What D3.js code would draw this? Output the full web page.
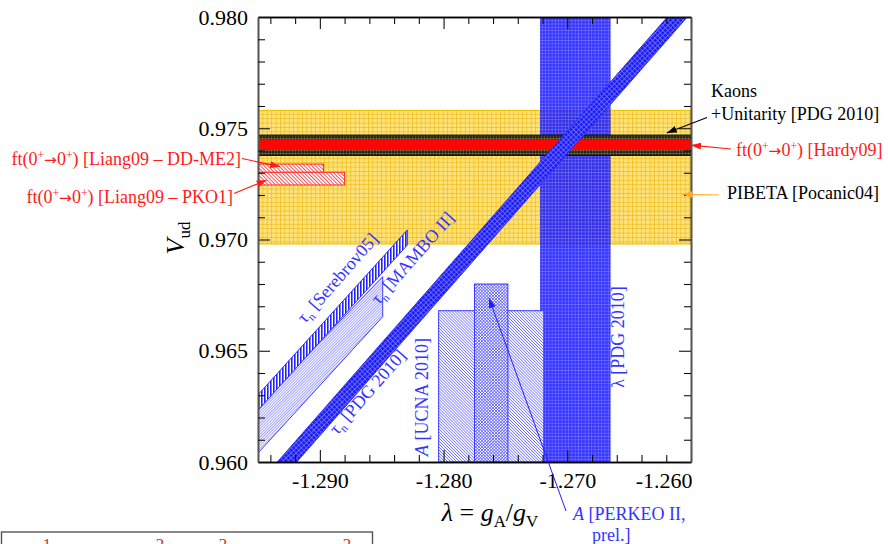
<!DOCTYPE html>
<html>
<head>
<meta charset="utf-8">
<script src="https://cdn.jsdelivr.net/npm/d3@7"></script>
<style>
  body { margin: 0; background: #fff; }
  svg { display: block; font-family: "Liberation Serif", "Times New Roman", serif; }
</style>
</head>
<body>
<svg id="chart" width="888" height="544"></svg>
<script>
// Dimensions
const margin = { top: 17, left: 258 };
const width = 433;
const height = 445;

// Axis ticks
const xTicks = [-1.29, -1.28, -1.27, -1.26];
const xTickLabels = ["-1.290", "-1.280", "-1.270", "-1.260"];
const yTicks = [0.96, 0.965, 0.97, 0.975, 0.98];
const yTickLabels = ["0.960", "0.965", "0.970", "0.975", "0.980"];
const xMinor = [-1.294, -1.292, -1.288, -1.286, -1.284, -1.282, -1.278, -1.276, -1.274, -1.272, -1.268, -1.266, -1.264, -1.262];
const yMinor = [0.961, 0.962, 0.963, 0.964, 0.966, 0.967, 0.968, 0.969, 0.971, 0.972, 0.973, 0.974, 0.976, 0.977, 0.978, 0.979];

// Horizontal bands, Vud [low, high]
const pibetaBand = [0.9698, 0.9758];
const kaonsBand = [0.97378, 0.97469];
const hardyBand = [0.97402, 0.9745];

// Vertical band, lambda [low, high]
const lambdaBand = [-1.2722, -1.2665];

// Boxes standing on the bottom axis: [lambda low, lambda high, Vud top]
const ucnaBox = [-1.2804, -1.2719, 0.9668];
const perkeoBox = [-1.2775, -1.2748, 0.968];

// Liang09 bars from the left axis: [lambda end, Vud low, Vud high]
const ddme2Bar = [-1.2897, 0.97302, 0.97339];
const pko1Bar = [-1.288, 0.97245, 0.97302];

// Lifetime bands as polygons of [lambda, Vud]
const tauPdgBand = [[-1.29344, 0.96], [-1.29187, 0.96], [-1.2603, 0.98], [-1.26191, 0.98]];
const serebrovBand = [[-1.295, 0.96302], [-1.28293, 0.97043], [-1.28293, 0.96975], [-1.295, 0.96233]];
const mamboBand = [[-1.295, 0.9625], [-1.28492, 0.96833], [-1.28492, 0.96653], [-1.295, 0.9604]];

// Scales
const x = d3.scaleLinear().domain([-1.295, -1.26]).range([0, width]);
const y = d3.scaleLinear().domain([0.96, 0.98]).range([height, 0]);

const svg = d3.select("#chart");
const defs = svg.append("defs");

// Fill patterns
function pattern(id, size, rotate, bg) {
  const p = defs
    .append("pattern")
    .attr("id", id)
    .attr("patternUnits", "userSpaceOnUse")
    .attr("width", size)
    .attr("height", size);
  if (rotate) p.attr("patternTransform", `rotate(${rotate})`);
  if (bg) p.append("rect").attr("width", size).attr("height", size).attr("fill", bg);
  return p;
}

pattern("yellowGrid", 4.4, 0, "#ffe27a")
  .append("path")
  .attr("d", "M0,0.4H4.4M0.4,0V4.4")
  .attr("stroke", "#efbf22")
  .attr("stroke-width", 0.8);

const lam = pattern("lambdaGrid", 3.3, 0, null);
lam.append("rect").attr("width", 3.3).attr("height", 3.3).attr("fill", "#1010ff").attr("opacity", 0.84);
lam.append("path").attr("d", "M0,0.3H3.3M0.3,0V3.3").attr("stroke", "#7c7cff").attr("stroke-width", 0.6);

pattern("kaonsDots", 3, 0, "#2c281a")
  .append("circle")
  .attr("cx", 1.5)
  .attr("cy", 1.5)
  .attr("r", 0.85)
  .attr("fill", "#9a8848");

pattern("tauGrid", 3.6, 45, "#1c1cf5")
  .append("path")
  .attr("d", "M0,0.4H3.6M0.4,0V3.6")
  .attr("stroke", "#7272ff")
  .attr("stroke-width", 0.8);

pattern("serebrovStripes", 3, 0, "#fff")
  .append("rect")
  .attr("width", 1.6)
  .attr("height", 3)
  .attr("fill", "#2222ff");

pattern("mamboHatch", 2, 45, "#fff")
  .append("path")
  .attr("d", "M0.4,0V2")
  .attr("stroke", "#6a6aff")
  .attr("stroke-width", 0.7);

pattern("ucnaHatch", 2.1, -45, "#fff")
  .append("path")
  .attr("d", "M0.4,0V2.1")
  .attr("stroke", "#6464ff")
  .attr("stroke-width", 0.7);

pattern("perkeoHatch", 2.2, 45, "#fff")
  .append("path")
  .attr("d", "M0,0.4H2.2M0.4,0V2.2")
  .attr("stroke", "#5252ff")
  .attr("stroke-width", 0.65);

pattern("liangHatch", 2.6, -45, "#fff")
  .append("path")
  .attr("d", "M0.5,0V2.6")
  .attr("stroke", "#ff2a2a")
  .attr("stroke-width", 0.8);

// Arrow markers
function marker(id, color) {
  defs
    .append("marker")
    .attr("id", id)
    .attr("markerUnits", "userSpaceOnUse")
    .attr("markerWidth", 11)
    .attr("markerHeight", 8)
    .attr("refX", 10)
    .attr("refY", 4)
    .attr("orient", "auto")
    .append("path")
    .attr("d", "M0,0.5L10,4L0,7.5z")
    .attr("fill", color);
}
marker("arrowBlack", "#000");
marker("arrowRed", "#ff1a1a");
marker("arrowOrange", "#ffaa22");
marker("arrowBlue", "#2020ff");

defs
  .append("clipPath")
  .attr("id", "plotClip")
  .append("rect")
  .attr("width", width)
  .attr("height", height);

const g = svg.append("g").attr("transform", `translate(${margin.left},${margin.top})`);
const plot = g.append("g").attr("clip-path", "url(#plotClip)");

function hBand(band, fill, stroke) {
  plot
    .append("rect")
    .attr("x", 0)
    .attr("width", width)
    .attr("y", y(band[1]))
    .attr("height", y(band[0]) - y(band[1]))
    .attr("fill", fill)
    .attr("stroke", stroke || "none")
    .attr("stroke-width", 1.2);
}

function box(b, fill) {
  plot
    .append("rect")
    .attr("x", x(b[0]))
    .attr("width", x(b[1]) - x(b[0]))
    .attr("y", y(b[2]))
    .attr("height", height - y(b[2]))
    .attr("fill", fill)
    .attr("stroke", "#3a3aff")
    .attr("stroke-width", 1);
}

function bar(b) {
  plot
    .append("rect")
    .attr("x", 0)
    .attr("width", x(b[0]))
    .attr("y", y(b[2]))
    .attr("height", y(b[1]) - y(b[2]))
    .attr("fill", "url(#liangHatch)")
    .attr("stroke", "#ff2a2a")
    .attr("stroke-width", 1);
}

const polyLine = d3.line().x((d) => x(d[0])).y((d) => y(d[1]));
function poly(pts, fill, strokeW) {
  plot
    .append("path")
    .attr("d", polyLine(pts) + "Z")
    .attr("fill", fill)
    .attr("stroke", "#2a2aff")
    .attr("stroke-width", strokeW);
}

// Layers, back to front
hBand(pibetaBand, "url(#yellowGrid)", "#f2c200");
plot
  .append("rect")
  .attr("x", x(lambdaBand[0]))
  .attr("width", x(lambdaBand[1]) - x(lambdaBand[0]))
  .attr("y", 0)
  .attr("height", height)
  .attr("fill", "url(#lambdaGrid)");
hBand(kaonsBand, "url(#kaonsDots)", "#111");
hBand(hardyBand, "#ff0606");
bar(ddme2Bar);
bar(pko1Bar);
box(ucnaBox, "url(#ucnaHatch)");
box(perkeoBox, "url(#perkeoHatch)");
poly(mamboBand, "url(#mamboHatch)", 0.9);
poly(serebrovBand, "url(#serebrovStripes)", 1);
poly(tauPdgBand, "url(#tauGrid)", 1);

// Axes with inward ticks
const tickFont = 22;
function styleAxis(sel, domainColor) {
  sel.select(".domain").attr("stroke", domainColor).attr("stroke-width", 1.6);
  sel.selectAll(".tick line").attr("stroke", "#111").attr("stroke-width", 1.1);
  sel.selectAll("text").attr("font-family", "Liberation Serif").attr("font-size", tickFont).attr("fill", "#000");
}

const xAxis = g
  .append("g")
  .attr("transform", `translate(0,${height})`)
  .call(
    d3.axisBottom(x).tickValues(xTicks).tickFormat((d, i) => xTickLabels[i]).tickSizeInner(-12).tickSizeOuter(0).tickPadding(10)
  )
  .call((s) => styleAxis(s, "#000"));
xAxis.selectAll(".tick:last-of-type text").attr("text-anchor", "end").attr("x", 1);

g.append("g")
  .attr("transform", `translate(0,${height})`)
  .call(d3.axisBottom(x).tickValues(xMinor).tickFormat("").tickSizeInner(-7).tickSizeOuter(0))
  .call((s) => styleAxis(s, "#000"));

g.append("g")
  .call(d3.axisTop(x).tickValues(xTicks).tickFormat("").tickSizeInner(-12).tickSizeOuter(0))
  .call((s) => styleAxis(s, "#000"));
g.append("g")
  .call(d3.axisTop(x).tickValues(xMinor).tickFormat("").tickSizeInner(-7).tickSizeOuter(0))
  .call((s) => styleAxis(s, "#000"));

g.append("g")
  .call(
    d3.axisLeft(y).tickValues(yTicks).tickFormat((d, i) => yTickLabels[i]).tickSizeInner(-12).tickSizeOuter(0).tickPadding(10)
  )
  .call((s) => styleAxis(s, "#555"));
g.append("g")
  .call(d3.axisLeft(y).tickValues(yMinor).tickFormat("").tickSizeInner(-7).tickSizeOuter(0))
  .call((s) => styleAxis(s, "#555"));

g.append("g")
  .attr("transform", `translate(${width},0)`)
  .call(d3.axisRight(y).tickValues(yTicks).tickFormat("").tickSizeInner(-12).tickSizeOuter(0))
  .call((s) => styleAxis(s, "#555"));
g.append("g")
  .attr("transform", `translate(${width},0)`)
  .call(d3.axisRight(y).tickValues(yMinor).tickFormat("").tickSizeInner(-7).tickSizeOuter(0))
  .call((s) => styleAxis(s, "#555"));

// Text helpers
function rich(sel, parts, size) {
  let shift = 0;
  parts.forEach(([str, kind]) => {
    const target = kind === "sup" ? -size * 0.36 : kind === "sub" ? size * 0.22 : 0;
    const t = sel.append("tspan").attr("dy", target - shift).text(str);
    shift = target;
    if (kind === "sup" || kind === "sub") t.attr("font-size", size * 0.65);
    if (kind === "it") t.attr("font-style", "italic");
    if (kind === "arrow") t.attr("font-family", "DejaVu Sans").attr("font-size", size * 0.85);
  });
}

function label(px, py, parts, opts = {}) {
  const size = opts.size || 18;
  const t = svg
    .append("text")
    .attr("transform", `translate(${px},${py}) rotate(${opts.rotate || 0})`)
    .attr("font-size", size)
    .attr("fill", opts.color || "#000")
    .attr("text-anchor", opts.anchor || "start");
  if (opts.dy) t.attr("dy", opts.dy);
  rich(t, parts, size);
  return t;
}

function arrow(x1, y1, lam, vud, color, markerId) {
  svg
    .append("line")
    .attr("x1", x1)
    .attr("y1", y1)
    .attr("x2", margin.left + x(lam))
    .attr("y2", margin.top + y(vud))
    .attr("stroke", color)
    .attr("stroke-width", 1.1)
    .attr("marker-end", `url(#${markerId})`);
}

const red = "#ff1a1a";
const blue = "#3434ff";
const ft = [["ft(0", ""], ["+", "sup"], ["\u2192", "arrow"], ["0", ""], ["+", "sup"]];

// Left red labels
label(241, 165, [...ft, [") [Liang09 \u2013 DD-ME2]", ""]], { color: red, anchor: "end" });
arrow(242, 158.5, -1.29322, 0.97327, red, "arrowRed");
label(233, 203, [...ft, [") [Liang09 \u2013 PKO1]", ""]], { color: red, anchor: "end" });
arrow(234, 193.5, -1.2943, 0.97267, red, "arrowRed");

// Right labels
label(711, 96.5, [["Kaons", ""]]);
label(711, 119.5, [["+Unitarity [PDG 2010]", ""]]);
arrow(707, 117.5, -1.26196, 0.97479, "#000", "arrowBlack");
label(736, 156, [...ft, [") [Hardy09]", ""]], { color: red });
arrow(731, 149, -1.26, 0.97424, red, "arrowRed");
label(727, 198.5, [["PIBETA [Pocanic04]", ""]]);
arrow(719, 195, -1.2607, 0.97203, "#ffaa22", "arrowOrange");

// Blue labels inside the plot
const tauAngle = -48.7;
label(342, 282, [["\u03c4", ""], ["n", "sub"], [" [Serebrov05]", ""]], { color: blue, anchor: "middle", rotate: tauAngle, dy: 6 });
label(417, 262, [["\u03c4", ""], ["n", "sub"], [" [MAMBO II]", ""]], { color: blue, anchor: "middle", rotate: tauAngle, dy: 6 });
label(372, 396, [["\u03c4", ""], ["n", "sub"], [" [PDG 2010]", ""]], { color: blue, anchor: "middle", rotate: tauAngle, dy: 6 });
label(428, 397, [["A", "it"], [" [UCNA 2010]", ""]], { color: blue, anchor: "middle", rotate: -90, dy: 6 });
label(624, 337, [["\u03bb [PDG 2010]", ""]], { color: blue, anchor: "middle", rotate: -90, dy: 6 });

// PERKEO label below the axis
label(573, 519.5, [["A", "it"], [" [PERKEO II,", ""]], { color: blue });
label(592, 540.5, [["prel.]", ""]], { color: blue });
svg
  .append("line")
  .attr("x1", 566)
  .attr("y1", 511)
  .attr("x2", margin.left + x(-1.27633))
  .attr("y2", margin.top + y(0.96737))
  .attr("stroke", "#2020ff")
  .attr("stroke-width", 1)
  .attr("marker-end", "url(#arrowBlue)");

// Axis titles
label(490, 521, [["\u03bb", "it"], [" = ", ""], ["g", "it"], ["A", "sub"], ["/", ""], ["g", "it"], ["V", "sub"]], {
  size: 26,
  anchor: "middle",
});
label(184, 238, [["V", "it"], ["ud", "sub"]], { size: 26, anchor: "middle", rotate: -90 });

// Cut-off box at the bottom left
svg
  .append("rect")
  .attr("x", 1.5)
  .attr("y", 532)
  .attr("width", 371)
  .attr("height", 40)
  .attr("fill", "none")
  .attr("stroke", "#555")
  .attr("stroke-width", 1.4);
[["1", 47], ["2", 160], ["2", 223], ["2", 347]].forEach(([s, px]) => {
  svg.append("text").attr("x", px).attr("y", 550).attr("text-anchor", "middle").attr("font-size", 17).attr("fill", "#c83232").text(s);
});
</script>
</body>
</html>
